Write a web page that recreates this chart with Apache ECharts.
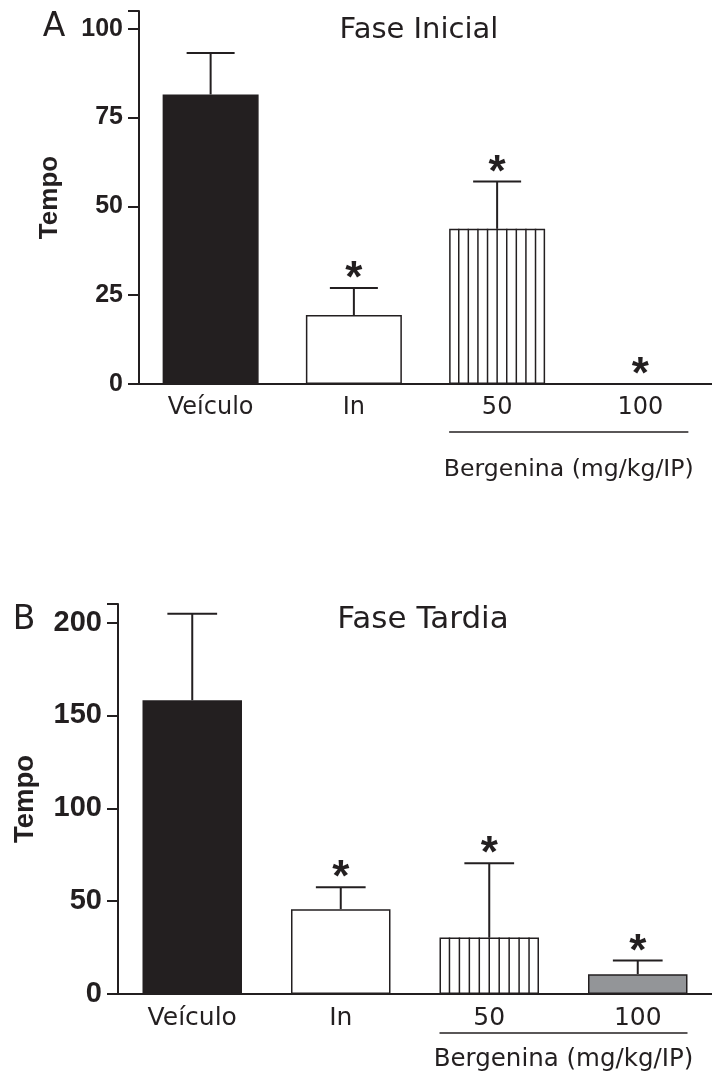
<!DOCTYPE html>
<html><head><meta charset="utf-8">
<script src="https://cdn.jsdelivr.net/npm/echarts@6/dist/echarts.min.js"></script>
<style>html,body{margin:0;padding:0;background:#fff}#c{width:712px;height:1074px}</style>
</head><body><div id="c"></div>
<script>
// ---------- data ----------
const categories = ['Veículo', 'In', '50', '100'];
const meanInicial = [81.5, 19.4, 43.7, 0];
const semInicial  = [11.7, 7.6, 13.3, 0];
const sigInicial  = [0, 1, 1, 1];
const meanTardia  = [158.2, 45.7, 30.4, 10.7];
const semTardia   = [46.6, 11.8, 40.0, 7.3];
const sigTardia   = [0, 1, 1, 1];
const ticksInicial = [0, 25, 50, 75, 100];
const ticksTardia  = [0, 50, 100, 150, 200];
const titles = ['Fase Inicial', 'Fase Tardia'];
const panelLetters = ['A', 'B'];
const yName = 'Tempo';
const groupLabel = 'Bergenina (mg/kg/IP)';
const groupRange = [2, 3];

// ---------- style ----------
const INK = '#231f20';
const fills = ['#231f20', '#ffffff', '#ffffff', '#939598'];
const striped = [0, 0, 1, 0];
const BAR_FRAC = 0.67;
const STRIPES = 10;
const SANS = 'DejaVu Sans';
const ARIAL = 'Liberation Sans';

const panels = [
  { mean: meanInicial, sem: semInicial, sig: sigInicial, ticks: ticksInicial, max: 105, interval: 25,
    grid: { left: 139, top: 11, width: 576, height: 373 },
    tickFont: 25, nameFont: 26, catFont: 24, groupFont: 23.6, lineOff: 48, textOff: 86, nameGap: 76,
    title: { x: 419, y: 30, size: 29 }, letter: { x: 54, y: 27 } },
  { mean: meanTardia, sem: semTardia, sig: sigTardia, ticks: ticksTardia, max: 210, interval: 50,
    grid: { left: 118, top: 604, width: 604, height: 390 },
    tickFont: 29, nameFont: 27.5, catFont: 25, groupFont: 24.5, lineOff: 39, textOff: 66, nameGap: 79,
    title: { x: 423, y: 620, size: 31 }, letter: { x: 24, y: 620 } }
];

function overlayItem(params, api) {
  const cat = api.value(0), mean = api.value(1), sem = api.value(2), sig = api.value(3), stripe = api.value(4);
  const band = api.size([1, 0])[0];
  const bw = band * BAR_FRAC;
  const base = api.coord([cat, 0]);
  const top = api.coord([cat, mean]);
  const errTop = api.coord([cat, mean + sem]);
  const children = [];
  if (stripe) {
    for (let i = 1; i < STRIPES; i++) {
      const x = base[0] - bw / 2 + bw * i / STRIPES;
      children.push({ type: 'line', shape: { x1: x, y1: base[1], x2: x, y2: top[1] },
        style: { stroke: INK, lineWidth: 1.5 } });
    }
  }
  if (sem > 0) {
    children.push({ type: 'line', shape: { x1: top[0], y1: top[1], x2: errTop[0], y2: errTop[1] },
      style: { stroke: INK, lineWidth: 2 } });
    children.push({ type: 'line', shape: { x1: errTop[0] - bw / 4, y1: errTop[1], x2: errTop[0] + bw / 4, y2: errTop[1] },
      style: { stroke: INK, lineWidth: 2 } });
  }
  if (sig) {
    children.push({ type: 'text', x: errTop[0], y: errTop[1] - 8,
      style: { text: '*', fill: INK, font: 'bold 44px "Liberation Sans"', align: 'center', verticalAlign: 'middle' } });
  }
  return { type: 'group', children };
}

function groupItem(params, api) {
  const p = panels[api.value(3)];
  const a = api.coord([api.value(0), 0]);
  const b = api.coord([api.value(2), 0]);
  const bw = api.size([1, 0])[0] * BAR_FRAC;
  const x1 = a[0] - bw / 2, x2 = b[0] + bw / 2;
  return { type: 'group', children: [
    { type: 'line', shape: { x1, y1: a[1] + p.lineOff, x2, y2: a[1] + p.lineOff }, style: { stroke: INK, lineWidth: 1.5 } },
    { type: 'text', x: (x1 + x2) / 2, y: a[1] + p.textOff,
      style: { text: groupLabel, fill: INK, font: p.groupFont + 'px "' + SANS + '"', align: 'center', verticalAlign: 'middle' } }
  ] };
}

const grid = [], xAxis = [], yAxis = [], series = [], graphic = [];
panels.forEach((p, k) => {
  grid.push(p.grid);
  xAxis.push({ gridIndex: k, type: 'category', data: categories,
    axisLine: { lineStyle: { color: INK, width: 2 } }, axisTick: { show: false },
    axisLabel: { color: INK, fontFamily: SANS, fontSize: p.catFont, margin: 12 } });
  yAxis.push({ gridIndex: k, type: 'value', min: 0, max: p.max, interval: p.interval,
    name: yName, nameLocation: 'middle', nameGap: p.nameGap,
    nameTextStyle: { color: INK, fontFamily: ARIAL, fontWeight: 'bold', fontSize: p.nameFont },
    axisLine: { show: true, lineStyle: { color: INK, width: 2 } },
    axisTick: { show: true, length: 11, lineStyle: { color: INK, width: 2 }, customValues: p.ticks.concat([p.max]) },
    axisLabel: { color: INK, fontFamily: ARIAL, fontWeight: 'bold', fontSize: p.tickFont, margin: 16, customValues: p.ticks },
    splitLine: { show: false } });
  series.push({ type: 'bar', xAxisIndex: k, yAxisIndex: k, barWidth: (BAR_FRAC * 100) + '%', z: 2,
    data: p.mean.map((v, i) => ({ value: v, itemStyle: { color: fills[i], borderColor: INK, borderWidth: 1.5 } })) });
  series.push({ type: 'custom', xAxisIndex: k, yAxisIndex: k, z: 3, renderItem: overlayItem,
    encode: { x: 0, y: 1 },
    data: p.mean.map((v, i) => [i, v, p.sem[i], p.sig[i], striped[i]]) });
  series.push({ type: 'custom', xAxisIndex: k, yAxisIndex: k, z: 3, renderItem: groupItem,
    encode: { x: 0, y: 1 }, data: [[groupRange[0], 0, groupRange[1], k]] });
  graphic.push({ type: 'text', x: p.title.x, y: p.title.y,
    style: { text: titles[k], fill: INK, font: p.title.size + 'px "' + SANS + '"', align: 'center', verticalAlign: 'middle' } });
  graphic.push({ type: 'text', x: p.letter.x, y: p.letter.y,
    style: { text: panelLetters[k], fill: INK, font: '33px "' + SANS + '"', align: 'center', verticalAlign: 'middle' } });
});

const chart = echarts.init(document.getElementById('c'), null, { renderer: 'canvas' });
chart.setOption({ animation: false, backgroundColor: '#ffffff', grid, xAxis, yAxis, series, graphic });
</script>
</body></html>
